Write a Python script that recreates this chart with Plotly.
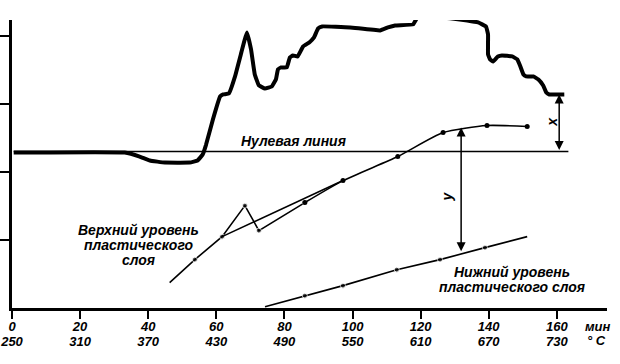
import plotly.graph_objects as go

# ---- data (minutes on x, arbitrary units on y; zero line at 1.30) ----
time_ticks = [0, 20, 40, 60, 80, 100, 120, 140, 160]
temp_ticks = [250, 310, 370, 430, 490, 550, 610, 670, 730]
zero_level = 1.30

curve_t = [0.5, 33.1, 37.5, 40.5, 44.9, 52.2, 54.5, 56.0, 57.0, 59.0, 61.1, 62.0, 63.7,
           65.5, 67.2, 69.0, 70.2, 71.3, 72.5, 74.3, 76.3, 77.5, 78.1, 79.0, 80.7,
           81.6, 82.5, 83.9, 85.5, 87.3, 88.7, 89.9, 91.1, 99.3, 108.1, 110.4, 112.5,
           117.8, 118.7, 119.6, 123.7, 133.7, 136.9, 139.2, 139.8, 139.8, 140.4, 141.3,
           142.7, 143.9, 146.9, 148.4, 149.3, 150.2, 151.0, 153.1, 154.6, 156.0, 156.9,
           157.8, 162.2]
curve_v = [1.285, 1.285, 1.226, 1.167, 1.137, 1.137, 1.167, 1.256, 1.403, 1.773, 2.112,
           2.142, 2.157, 2.408, 2.733, 3.058, 2.806, 2.437, 2.275, 2.230, 2.260, 2.363,
           2.511, 2.541, 2.541, 2.688, 2.718, 2.703, 2.851, 2.910, 2.984, 3.117, 3.146,
           3.131, 3.087, 3.131, 3.161, 3.176, 3.250, 3.309, 3.294, 3.235, 3.205, 3.146,
           3.028, 2.733, 2.659, 2.629, 2.703, 2.718, 2.703, 2.659, 2.555, 2.437, 2.408,
           2.408, 2.363, 2.275, 2.171, 2.142, 2.142]

upper_zig_t = [46.3, 53.7, 61.7, 68.4, 72.5, 86.0]
upper_zig_v = [-0.635, -0.295, 0.044, 0.502, 0.133, 0.547]
upper_smooth_t = [86.0, 97.2, 113.3, 126.6, 139.5, 151.3]
upper_smooth_v = [0.547, 0.871, 1.226, 1.580, 1.684, 1.669]
upper_fit_t = [61.7, 97.2]
upper_fit_v = [0.044, 0.871]

lower_t = [74.3, 86.0, 97.2, 113.0, 125.7, 138.9, 151.3]
lower_v = [-0.990, -0.827, -0.679, -0.443, -0.295, -0.118, 0.044]
lower_markers = [False, True, True, True, True, True, False]

x_arrow_t, x_arrow_top, x_arrow_bottom = 160.7, 2.142, 1.30
y_arrow_t, y_arrow_top, y_arrow_bottom = 131.9, 1.654, -0.192

FONT = "Arial, 'Liberation Sans', sans-serif"

fig = go.Figure()

common = dict(hoverinfo="skip", cliponaxis=False)
# zero line
fig.add_trace(go.Scatter(x=[0.5, 163.4], y=[zero_level, zero_level], mode="lines",
                         line=dict(color="black", width=1.5), **common))
# main thick curve
fig.add_trace(go.Scatter(x=curve_t, y=curve_v, mode="lines",
                         line=dict(color="black", width=4, shape="spline", smoothing=0.25),
                         **common))
# upper plastic layer
fig.add_trace(go.Scatter(x=upper_zig_t, y=upper_zig_v, mode="lines+markers",
                         line=dict(color="black", width=1.6),
                         marker=dict(size=[0, 5, 5, 5, 5, 5], color="black"), **common))
fig.add_trace(go.Scatter(x=upper_smooth_t, y=upper_smooth_v, mode="lines+markers",
                         line=dict(color="black", width=1.6, shape="spline", smoothing=0.6),
                         marker=dict(size=5, color="black"), **common))
fig.add_trace(go.Scatter(x=upper_fit_t, y=upper_fit_v, mode="lines",
                         line=dict(color="black", width=1.6), **common))
# lower plastic layer
fig.add_trace(go.Scatter(x=lower_t, y=lower_v, mode="lines+markers",
                         line=dict(color="black", width=1.6),
                         marker=dict(size=[5 if m else 0 for m in lower_markers], color="black"),
                         **common))
# invisible trace for the temperature axis
fig.add_trace(go.Scatter(x=[time_ticks[1]], y=[zero_level], xaxis="x2", mode="markers",
                         marker=dict(size=0, opacity=0), hoverinfo="skip"))

ann_font = dict(family=FONT, size=14, color="black", weight="bold", style="italic")
tick_font = dict(family=FONT, size=13, color="black", weight="bold", style="italic")

text_lines = [
    (82.8, 1.462, "Нулевая линия"),
    (37.2, 0.140, "Верхний уровень"),
    (37.2, -0.080, "пластического"),
    (37.2, -0.300, "слоя"),
    (146.8, -0.480, "Нижний уровень"),
    (146.8, -0.700, "пластического слоя"),
]
for x, y, txt in text_lines:
    fig.add_annotation(x=x, y=y, text=txt, showarrow=False, xref="x", yref="y",
                       font=ann_font, align="center")

# x and y arrows (double headed)
for t, top, bot in [(x_arrow_t, x_arrow_top, x_arrow_bottom),
                    (y_arrow_t, y_arrow_top, y_arrow_bottom)]:
    fig.add_annotation(x=t, y=top, ax=t, ay=bot, xref="x", yref="y", axref="x", ayref="y",
                       text="", showarrow=True, arrowhead=2, startarrowhead=2,
                       arrowside="end+start", arrowsize=1.2, startarrowsize=1.2,
                       arrowwidth=1.5, arrowcolor="black")

fig.add_annotation(x=158.6, y=1.74, text="x", showarrow=False, textangle=-90, font=ann_font)
fig.add_annotation(x=127.8, y=0.64, text="y", showarrow=False, textangle=-90, font=ann_font)

# units at the right of the time axis
fig.add_annotation(x=172.2, y=0, yref="paper", yshift=-18, yanchor="middle",
                   text="мин", showarrow=False, font=tick_font)
fig.add_annotation(x=171.7, y=0, yref="paper", yshift=-32, yanchor="middle",
                   text="° C", showarrow=False, font=tick_font)

x_range = [0, 174.74]
fig.update_layout(
    width=620, height=364,
    margin=dict(l=12, r=13, t=20, b=56, autoexpand=False),
    paper_bgcolor="white", plot_bgcolor="white",
    showlegend=False,
    xaxis=dict(range=x_range, showgrid=False, zeroline=False, automargin=False,
               showline=True, linecolor="black", linewidth=2.5,
               ticks="outside", ticklen=8, tickwidth=2, tickcolor="black",
               tickvals=time_ticks, ticktext=[str(v) for v in time_ticks],
               tickfont=tick_font, ticklabelstandoff=-3),
    xaxis2=dict(range=x_range, overlaying="x", anchor="y", side="bottom",
                showgrid=False, zeroline=False, showline=False, automargin=False,
                ticks="outside", ticklen=8, tickcolor="rgba(0,0,0,0)",
                tickvals=time_ticks, ticktext=[str(v) for v in temp_ticks],
                tickfont=tick_font, ticklabelstandoff=13),
    yaxis=dict(range=[-1.009, 3.241], showgrid=False, zeroline=False, automargin=False,
               showline=True, linecolor="black", linewidth=2.5,
               ticks="outside", ticklen=9, tickwidth=2, tickcolor="black",
               tickvals=[0, 1, 2, 3], showticklabels=False),
)

fig.write_html("out.html", config={"displayModeBar": False},
               post_script="document.body.style.margin='0';document.body.style.overflow='hidden';")
